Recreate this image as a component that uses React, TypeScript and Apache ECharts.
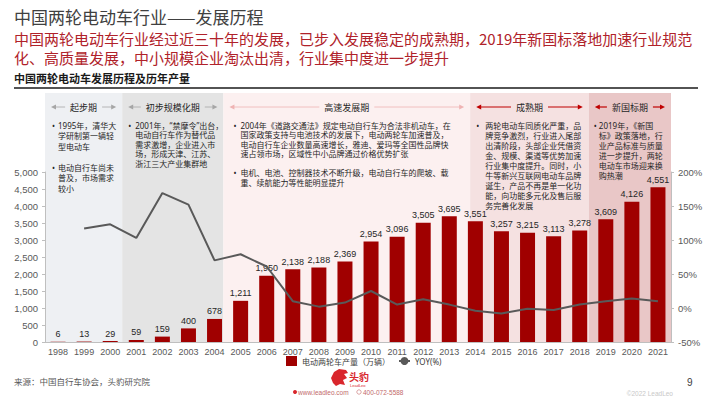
import React, { useEffect, useRef } from 'react';
import * as echarts from 'echarts';

const years = ['1998','1999','2000','2001','2002','2003','2004','2005','2006','2007','2008','2009','2010','2011','2012','2013','2014','2015','2016','2017','2018','2019','2020','2021'];
const production = [6,13,29,59,159,400,678,1211,1950,2138,2188,2369,2954,3096,3505,3695,3551,3257,3215,3113,3278,3609,4126,4551];
const yoy = [null,117,123,103,169,152,70,79,61,10,2,8,25,5,13,5,-4,-8,-1,-3,5,10,14,10];

const productionName = '电动两轮车产量（万辆）';
const yoyName = 'YOY(%)';

const leftAxis = { min: 0, max: 5000, interval: 500 };
const rightAxis = { min: -50, max: 200, interval: 50 };

const titleText = '中国两轮电动车行业——发展历程';
const subtitleLines = [
  '中国两轮电动车行业经过近三十年的发展，已步入发展稳定的成熟期，2019年新国标落地加速行业规范',
  '化、高质量发展，中小规模企业淘汰出清，行业集中度进一步提升',
];
const chartTitle = '中国两轮电动车发展历程及历年产量';
const sourceText = '来源：中国自行车协会，头豹研究院';

const phaseNames = ['起步期', '初步规模化期', '高速发展期', '成熟期', '新国标期'];
const phaseStartYears = ['1998', '2001', '2005', '2014', '2019'];
const phaseNotes: string[][][] = [
  [['1995年，清华大', '学研制第一辆轻', '型电动车'], ['电动自行车尚未', '普及，市场需求', '较小']],
  [['2001年，“禁摩令”出台，', '电动自行车作为替代品', '需求激增，企业进入市', '场，形成天津、江苏、', '浙江三大产业集群地']],
  [
    ['2004年《道路交通法》规定电动自行车为合法非机动车，在', '国家政策支持与电池技术的发展下，电动两轮车加速普及，', '电动自行车企业数量高速增长，雅迪、爱玛等全国性品牌快', '速占领市场，区域性中小品牌通过价格优势扩张'],
    ['电机、电池、控制器技术不断升级，电动自行车的爬坡、载', '重、续航能力等性能明显提升'],
  ],
  [['两轮电动车同质化严重，品', '牌竞争激烈，行业进入尾部', '出清阶段，头部企业凭借资', '金、规模、渠道等优势加速', '行业集中度提升。同时，小', '牛等新兴互联网电动车品牌', '诞生，产品不再是单一化功', '能，向功能多元化及售后服', '务完善化发展']],
  [['2019年，《新国', '标》政策落地，行', '业产品标准与质量', '进一步提升，两轮', '电动车市场迎来换', '购热潮']],
];

// styling for the phases
const phaseBg = ['#eef0f3', '#e4e4e4', '#fcf0f0', '#f5e1e1', '#e9c7c7'];
const phaseArrow = ['#a6a6a6', '#a6a6a6', '#efb3b3', '#c00000', '#c00000'];
const phaseShift = [0.5, 0.54, 0.66, 0.2, 0.65];
const phaseBulletDx = [7, 6, 10, 6, 5];
const phaseTextDx = [13, 13, 17, 15, 10];
const phaseLineH = [10.5, 9.5, 9.5, 10, 10];

const CJK = '"Noto Sans CJK SC", "Noto Sans", sans-serif';
const BODY = '"Noto Sans", "Noto Sans CJK SC", sans-serif';
const LATIN = '"Liberation Sans", Arial, sans-serif';
const RED = '#a00000';

const fmt = (v: number) => v.toLocaleString('en-US');

export default function App() {
  const ref = useRef<HTMLDivElement>(null);
  useEffect(() => {
    const chart = echarts.init(ref.current!, null, { renderer: 'svg' });
    const option: any = {
      animation: false,
      backgroundColor: '#ffffff',
      grid: { left: 45, right: 39, top: 172, bottom: 57, containLabel: false },
      legend: {
        left: 286,
        top: 356,
        padding: 0,
        itemWidth: 11,
        itemHeight: 10,
        itemGap: 8,
        textStyle: { fontSize: 8, color: '#404040', fontFamily: BODY },
        data: [{ name: productionName, icon: 'rect' }, { name: yoyName }],
      },
      xAxis: {
        type: 'category',
        data: years,
        axisLine: { lineStyle: { color: '#bfbfbf' } },
        axisTick: { show: false },
        axisLabel: { color: '#595959', fontSize: 9, fontFamily: LATIN, margin: 5 },
      },
      yAxis: [
        {
          type: 'value',
          min: leftAxis.min,
          max: leftAxis.max,
          interval: leftAxis.interval,
          axisLine: { show: true, lineStyle: { color: '#bfbfbf' } },
          axisTick: { show: true, length: 3, lineStyle: { color: '#bfbfbf' } },
          splitLine: { show: false },
          axisLabel: { color: '#595959', fontSize: 9.5, fontFamily: LATIN, margin: 7, formatter: (v: number) => fmt(v) },
        },
        {
          type: 'value',
          min: rightAxis.min,
          max: rightAxis.max,
          interval: rightAxis.interval,
          axisLine: { show: true, lineStyle: { color: '#bfbfbf' } },
          axisTick: { show: true, length: 3, lineStyle: { color: '#bfbfbf' } },
          splitLine: { show: false },
          axisLabel: { color: '#595959', fontSize: 9.5, fontFamily: LATIN, margin: 7, formatter: '{value}%' },
        },
      ],
      series: [
        {
          name: productionName,
          type: 'bar',
          data: production,
          barWidth: 15,
          itemStyle: { color: RED },
          z: 2,
          label: {
            show: true,
            position: 'top',
            distance: 3,
            fontSize: 9,
            fontFamily: LATIN,
            color: '#262626',
            formatter: (p: any) => fmt(p.value),
          },
        },
        {
          name: yoyName,
          type: 'line',
          yAxisIndex: 1,
          data: yoy,
          symbol: 'none',
          z: 3,
          lineStyle: { color: '#595959', width: 2 },
          itemStyle: { color: '#595959' },
        },
      ],
    };
    chart.setOption(option);

    const cx = (y: string) => chart.convertToPixel({ xAxisIndex: 0 }, y) as number;
    const bw = cx(years[1]) - cx(years[0]);
    const axisStart = cx(years[0]) - bw / 2;
    const axisEnd = cx(years[years.length - 1]) + bw / 2;
    const yZero = chart.convertToPixel({ yAxisIndex: 0 }, 0) as number;
    const bgTop = 93;
    const headerY = 107;
    const textTop = 125;

    const g: any[] = [];
    const bounds = phaseStartYears.map((y, i) => (i === 0 ? axisStart : cx(y) - bw * phaseShift[i]));
    bounds.push(axisEnd);

    phaseNames.forEach((name, i) => {
      const L = bounds[i];
      const R = bounds[i + 1];
      g.push({ type: 'rect', silent: true, z: -10, shape: { x: L, y: bgTop, width: R - L, height: yZero - bgTop }, style: { fill: phaseBg[i] } });
      const c = (L + R) / 2;
      const tw = name.length * 9;
      g.push({ type: 'text', silent: true, z: 50, x: c, y: headerY, style: { text: name, fontSize: 9, fontFamily: CJK, fill: '#262626', align: 'center', verticalAlign: 'middle' } });
      const col = phaseArrow[i];
      const lw = i >= 3 ? 1.2 : 0.8;
      const a1 = L + 6, b1 = c - tw / 2 - 5;
      const a2 = c + tw / 2 + 5, b2 = R - 6;
      g.push({ type: 'line', silent: true, z: 50, shape: { x1: a1 + 2, y1: headerY, x2: b1, y2: headerY }, style: { stroke: col, lineWidth: lw } });
      g.push({ type: 'polygon', silent: true, z: 50, shape: { points: [[a1, headerY], [a1 + 5, headerY - 2.5], [a1 + 5, headerY + 2.5]] }, style: { fill: col } });
      g.push({ type: 'line', silent: true, z: 50, shape: { x1: a2, y1: headerY, x2: b2 - 2, y2: headerY }, style: { stroke: col, lineWidth: lw } });
      g.push({ type: 'polygon', silent: true, z: 50, shape: { points: [[b2, headerY], [b2 - 5, headerY - 2.5], [b2 - 5, headerY + 2.5]] }, style: { fill: col } });

      const lh = phaseLineH[i];
      let idx = 0;
      phaseNotes[i].forEach((bullet) => {
        const top = textTop - lh / 2 + idx * lh;
        g.push({ type: 'text', silent: true, z: 50, x: L + phaseBulletDx[i], y: top, style: { text: '•', fontSize: 8, fontFamily: BODY, fill: '#262626', lineHeight: lh, verticalAlign: 'top' } });
        g.push({ type: 'text', silent: true, z: 50, x: L + phaseTextDx[i], y: top, style: { text: bullet.join('\n'), fontSize: 8, fontFamily: BODY, fill: '#262626', lineHeight: lh, verticalAlign: 'top' } });
        idx += bullet.length + 1;
      });
    });

    // page header
    g.push({ type: 'text', silent: true, z: 50, x: 14, y: 16, style: { text: titleText, fontSize: 17, fontFamily: CJK, fill: '#404040', verticalAlign: 'middle' } });
    subtitleLines.forEach((t, k) => {
      g.push({ type: 'text', silent: true, z: 50, x: 14, y: 38 + k * 19, style: { text: t, fontSize: 15, fontFamily: CJK, fill: '#b0222a', verticalAlign: 'middle' } });
    });
    g.push({ type: 'text', silent: true, z: 50, x: 14, y: 78, style: { text: chartTitle, fontSize: 11, fontWeight: 'bold', fontFamily: CJK, fill: '#1a1a1a', verticalAlign: 'middle' } });
    g.push({ type: 'line', silent: true, z: 50, shape: { x1: 14, y1: 88, x2: 698, y2: 88 }, style: { stroke: '#1a1a1a', lineWidth: 1.5 } });

    // footer
    g.push({ type: 'text', silent: true, z: 50, x: 14, y: 381, style: { text: sourceText, fontSize: 8.5, fontFamily: CJK, fill: '#595959', verticalAlign: 'middle' } });
    g.push({ type: 'polygon', silent: true, z: 50, shape: { points: [[331, 378], [334, 372], [339, 369], [346, 370], [348, 373], [344, 374], [347, 378], [343, 380], [345, 385], [340, 384], [336, 386], [333, 383]] }, style: { fill: '#d9262c' } });
    g.push({ type: 'text', silent: true, z: 50, x: 349, y: 376, style: { text: '头豹', fontSize: 10, fontWeight: 'bold', fontFamily: CJK, fill: '#d9262c', verticalAlign: 'middle' } });
    g.push({ type: 'text', silent: true, z: 50, x: 350, y: 385, style: { text: 'LeadLeo', fontSize: 4, fontFamily: LATIN, fill: '#d9262c', verticalAlign: 'middle' } });
    g.push({ type: 'circle', silent: true, z: 50, shape: { cx: 295, cy: 392, r: 2 }, style: { fill: '#d9262c' } });
    g.push({ type: 'text', silent: true, z: 50, x: 298, y: 392, style: { text: 'www.leadleo.com', fontSize: 6.5, fontFamily: LATIN, fill: '#c26a6a', verticalAlign: 'middle' } });
    g.push({ type: 'circle', silent: true, z: 50, shape: { cx: 359, cy: 392, r: 2.2 }, style: { fill: 'none', stroke: '#c26a6a', lineWidth: 0.6 } });
    g.push({ type: 'text', silent: true, z: 50, x: 363, y: 392, style: { text: '400-072-5588', fontSize: 6.5, fontFamily: LATIN, fill: '#c26a6a', verticalAlign: 'middle' } });
    g.push({ type: 'text', silent: true, z: 50, x: 687, y: 382, style: { text: '9', fontSize: 10, fontFamily: LATIN, fill: '#404040', verticalAlign: 'middle' } });
    g.push({ type: 'text', silent: true, z: 50, x: 673, y: 393, style: { text: '©2022 LeadLeo', fontSize: 6.5, fontFamily: LATIN, fill: '#c8c8c8', align: 'right', verticalAlign: 'middle' } });

    chart.setOption({ graphic: g });
    return () => chart.dispose();
  }, []);
  return <div ref={ref} style={{ position: 'absolute', left: 0, top: 0, width: 710, height: 399, background: '#fff' }} />;
}
